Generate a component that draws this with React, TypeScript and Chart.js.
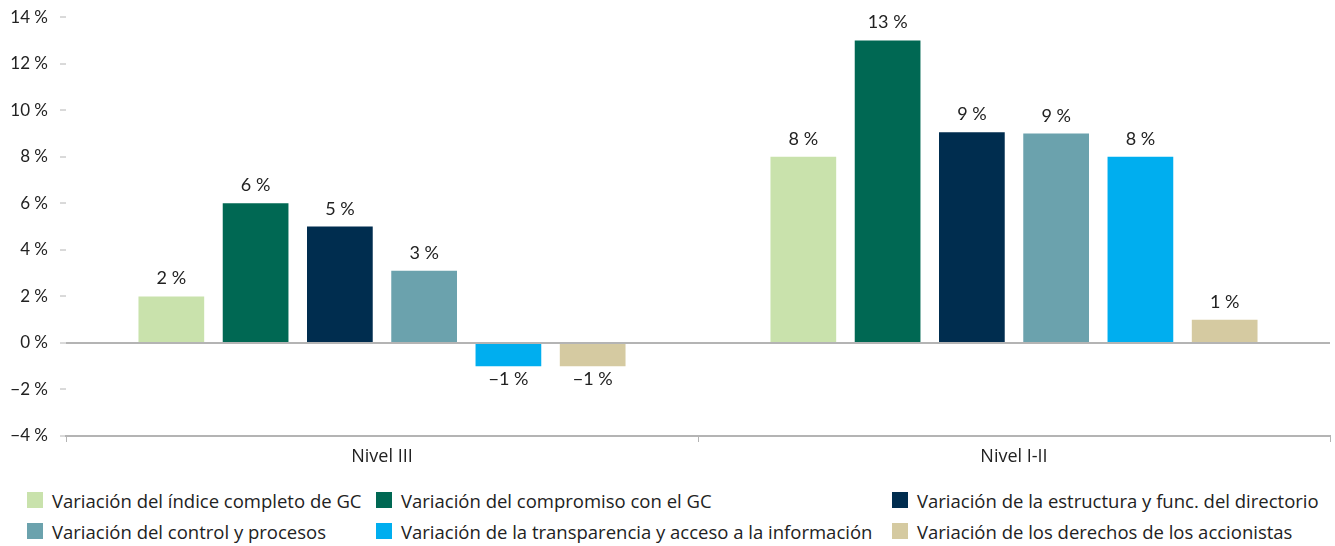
import React, { useEffect, useRef } from "react";
import { Chart, registerables } from "chart.js";

Chart.register(...registerables);

const categories = ["Nivel III", "Nivel I-II"];
const seriesNames = [
  "Variación del índice completo de GC",
  "Variación del compromiso con el GC",
  "Variación de la estructura y func. del directorio",
  "Variación del control y procesos",
  "Variación de la transparencia y acceso a la información",
  "Variación de los derechos de los accionistas",
];
const indiceCompleto = [2.0, 8.0];
const compromiso = [6.0, 13.0];
const estructura = [5.0, 9.05];
const control = [3.1, 9.0];
const transparencia = [-1.0, 8.0];
const derechos = [-1.0, 1.0];
const seriesValues = [indiceCompleto, compromiso, estructura, control, transparencia, derechos];
const seriesColors = ["#C9E2AC", "#006853", "#002D4F", "#6BA2AD", "#00AEEF", "#D5CAA1"];
const yTicks = [-4, -2, 0, 2, 4, 6, 8, 10, 12, 14];

const FONT = "Lato, 'Noto Sans', sans-serif";
const FONT2 = "'Open Sans', 'Noto Sans', sans-serif";
const TEXT = "#222222";
const LINE = "#b4b4b4";

const fmt = (v: number) => {
  const r = Math.round(v);
  return (r < 0 ? "\u2212" + Math.abs(r) : String(r)) + " %";
};

const labelPlugin = {
  id: "barLabels",
  afterDatasetsDraw(chart: any) {
    const ctx = chart.ctx;
    ctx.save();
    ctx.font = `18px ${FONT}`;
    ctx.fillStyle = TEXT;
    ctx.textAlign = "center";
    ctx.textBaseline = "alphabetic";
    chart.data.datasets.forEach((ds: any, di: number) => {
      const meta = chart.getDatasetMeta(di);
      meta.data.forEach((bar: any, i: number) => {
        const v = ds.data[i] as number;
        const y = v >= 0 ? bar.y - 12 : bar.y + 19;
        ctx.fillText(fmt(v), bar.x, y);
      });
    });
    ctx.restore();
  },
};

export default function App() {
  const ref = useRef<HTMLCanvasElement | null>(null);
  useEffect(() => {
    if (!ref.current) return;
    const chart = new Chart(ref.current, {
      type: "bar",
      data: {
        labels: categories,
        datasets: seriesNames.map((name, i) => ({
          label: name,
          data: seriesValues[i],
          backgroundColor: seriesColors[i],
          borderWidth: 0,
          categoryPercentage: 0.8,
          barPercentage: 0.78,
        })),
      },
      options: {
        animation: false,
        responsive: true,
        maintainAspectRatio: false,
        layout: { padding: { top: 5, right: 5, left: 0, bottom: 0 } },
        plugins: { legend: { display: false }, tooltip: { enabled: false } },
        scales: {
          x: {
            grid: {
              offset: true,
              drawOnChartArea: false,
              tickLength: 6,
              tickColor: LINE,
            },
            border: { display: true, color: LINE, width: 2 },
            ticks: { color: TEXT, font: { family: FONT2, size: 18 }, padding: 4 },
            afterFit: (s: any) => {
              s.height = 40;
            },
          },
          y: {
            min: -4,
            max: 14,
            afterBuildTicks: (s: any) => {
              s.ticks = yTicks.map((v) => ({ value: v }));
            },
            grid: {
              color: (c: any) => (c.tick && c.tick.value === 0 ? LINE : "rgba(0,0,0,0)"),
              lineWidth: 2,
              tickLength: 6,
              tickColor: LINE,
              tickWidth: 1,
            },
            border: { display: false },
            ticks: {
              color: TEXT,
              font: { family: FONT, size: 17 },
              padding: 12,
              callback: (v: any) => fmt(Number(v)),
            },
            afterFit: (s: any) => {
              s.width = 66;
            },
          },
        },
      },
      plugins: [labelPlugin],
    });
    return () => chart.destroy();
  }, []);

  const cols = [27, 376, 892];
  const rows = [492, 523];
  return (
    <div style={{ position: "absolute", left: 0, top: 0, width: 1335, height: 546, background: "#fff", overflow: "hidden" }}>
      <div style={{ position: "absolute", left: 0, top: -5, width: 1335, height: 481 }}>
        <canvas ref={ref} />
      </div>
      {seriesNames.map((name, i) => (
        <div
          key={name}
          style={{
            position: "absolute",
            left: cols[i % 3],
            top: rows[Math.floor(i / 3)],
            height: 16,
            display: "flex",
            alignItems: "center",
            whiteSpace: "nowrap",
            fontFamily: FONT2,
            fontSize: 18.5,
            color: TEXT,
          }}
        >
          <span style={{ display: "inline-block", width: 16, height: 16, background: seriesColors[i], marginRight: 9, flexShrink: 0 }} />
          <span>{name}</span>
        </div>
      ))}
    </div>
  );
}
